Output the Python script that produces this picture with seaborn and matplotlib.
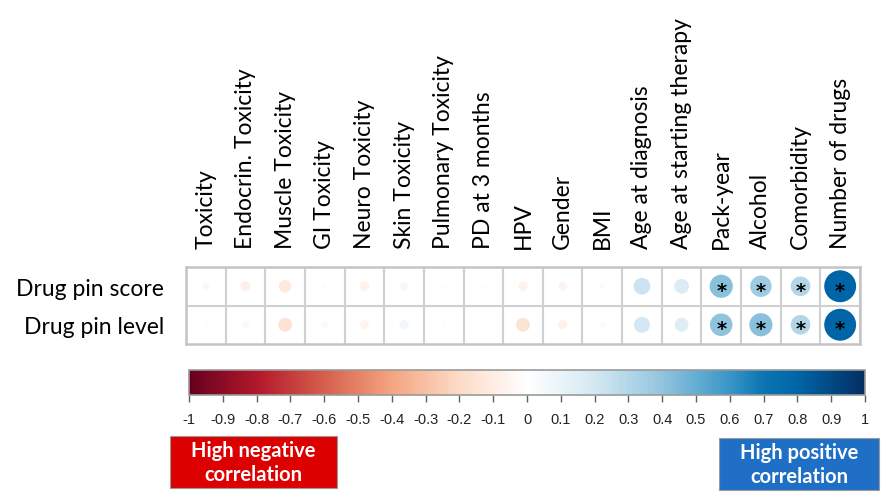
import numpy as np
import pandas as pd
import seaborn as sns
import matplotlib.pyplot as plt
from matplotlib.colors import Normalize, LinearSegmentedColormap
from matplotlib.cm import ScalarMappable
from matplotlib.patches import Rectangle

# variables (columns) and drug pin measures (rows)
variables = ["Toxicity", "Endocrin. Toxicity", "Muscle Toxicity", "GI Toxicity",
             "Neuro Toxicity", "Skin Toxicity", "Pulmonary Toxicity", "PD at 3 months",
             "HPV", "Gender", "BMI", "Age at diagnosis", "Age at starting therapy",
             "Pack-year", "Alcohol", "Comorbidity", "Number of drugs"]
measures = ["Drug pin score", "Drug pin level"]

# correlation coefficients
score_corr = [0.04, -0.08, -0.12, -0.02, -0.07, 0.05, 0.02, 0.02, -0.07,
              -0.06, 0.03, 0.22, 0.17, 0.42, 0.36, 0.30, 0.80]
level_corr = [0.02, -0.04, -0.15, -0.04, -0.06, 0.07, 0.02, 0.0, -0.15,
              -0.07, 0.03, 0.20, 0.15, 0.40, 0.42, 0.30, 0.80]
# significant cells (marked with *)
score_sig = [0] * 13 + [1, 1, 1, 1]
level_sig = [0] * 13 + [1, 1, 1, 1]

cbar_ticks = [-1, -0.9, -0.8, -0.7, -0.6, -0.5, -0.4, -0.3, -0.2, -0.1, 0,
              0.1, 0.2, 0.3, 0.4, 0.5, 0.6, 0.7, 0.8, 0.9, 1]

# red-white-blue scale as in the reference colour bar
cmap = LinearSegmentedColormap.from_list("corr", [
    (0.0, "#67001F"), (0.1, "#B2182B"), (0.2, "#D6604D"), (0.3, "#F4A582"),
    (0.4, "#FDDBC7"), (0.5, "#FFFFFF"), (0.6, "#D4E8F3"), (0.7, "#92C5DE"),
    (0.8, "#3A96C8"), (0.85, "#0B75B3"), (0.9, "#0066A8"), (1.0, "#032E62")])

df = pd.DataFrame({
    "variable": variables * 2,
    "measure": [measures[0]] * len(variables) + [measures[1]] * len(variables),
    "r": score_corr + level_corr,
    "sig": score_sig + level_sig,
})
df["abs_r"] = df["r"].abs()

sns.set_style("white")
plt.rcParams["font.family"] = ["Lato", "DejaVu Sans"]

W, H = 894, 502
fig = plt.figure(figsize=(W / 100, H / 100), dpi=100)

# grid axes: x 186-860, y 268-345 (pixels from top)
ax = fig.add_axes([186 / W, (H - 345) / H, 674 / W, 77 / H])
norm = Normalize(-1, 1)

# circle area proportional to |r| (radius = 0.45 cell at |r| = 1)
cell_pt = 674 / len(variables) * 0.72
max_area = (0.9 * cell_pt) ** 2
sns.scatterplot(data=df, x="variable", y="measure", hue="r", palette=cmap,
                hue_norm=(-1, 1), size="abs_r", sizes=(0, max_area),
                size_norm=(0, 1), edgecolor="none", legend=False, ax=ax, zorder=3)

for _, row in df[df["sig"] == 1].iterrows():
    ax.text(variables.index(row["variable"]), measures.index(row["measure"]) + 0.1,
            "*", ha="center", va="center", fontsize=14, fontweight="bold",
            color="black", fontfamily="DejaVu Sans", zorder=4)

ax.set_xlim(-0.5, len(variables) - 0.5)
ax.set_ylim(len(measures) - 0.5, -0.5)
for i in range(len(variables) + 1):
    ax.axvline(i - 0.5, color="#d0d0d0", lw=1.5, zorder=1)
ax.axhline(0.5, color="#d0d0d0", lw=1.5, zorder=1)
for s in ax.spines.values():
    s.set_color("#c4c4c4")
    s.set_linewidth(1.8)

ax.xaxis.tick_top()
ax.set_xticks(range(len(variables)))
ax.set_xticklabels(variables, rotation=90, fontsize=16.5, color="black")
ax.tick_params(axis="x", length=0, pad=14)
ax.set_yticks(range(len(measures)))
ax.set_yticklabels(measures, fontsize=16.5, color="black")
ax.tick_params(axis="y", length=0, pad=16)
ax.set_xlabel("")
ax.set_ylabel("")

# colour bar: x 189-865, y 371-396
cax = fig.add_axes([189 / W, (H - 396) / H, 676 / W, 25 / H])
cb = fig.colorbar(ScalarMappable(norm=norm, cmap=cmap), cax=cax, orientation="horizontal")
cb.set_ticks(cbar_ticks)
cb.set_ticklabels([f"{t:g}" for t in cbar_ticks])
cb.outline.set_edgecolor("#9a9a9a")
cb.outline.set_linewidth(1.2)
cax.tick_params(axis="x", length=5, width=1, color="#606060", pad=7,
                labelsize=10.5, labelcolor="#222222")
for lbl in cax.get_xticklabels():
    lbl.set_fontfamily(["Liberation Sans", "DejaVu Sans"])

# annotation boxes
boxes = [("High negative\ncorrelation", 170, 437, 337, 489, "#dd0000"),
         ("High positive\ncorrelation", 719, 439, 879, 491, "#1f6fc6")]
for label, x0, y0, x1, y1, color in boxes:
    fig.patches.append(Rectangle((x0 / W, (H - y1) / H), (x1 - x0) / W, (y1 - y0) / H,
                                 transform=fig.transFigure, facecolor=color,
                                 edgecolor="#9a9a9a", lw=0.8))
    fig.text((x0 + x1) / 2 / W, (H - (y0 + y1) / 2) / H, label, ha="center", va="center",
             color="white", fontsize=14.5, fontweight="bold", linespacing=1.2)

fig.savefig("out.png", dpi=100)
